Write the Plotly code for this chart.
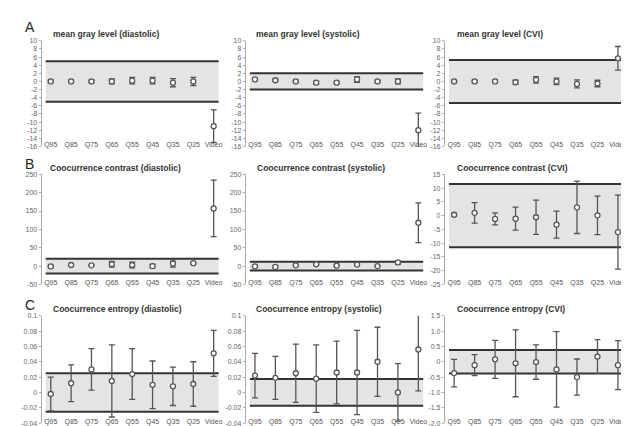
import plotly.graph_objects as go

W, H = 629, 426

categories = ["Q95", "Q85", "Q75", "Q65", "Q55", "Q45", "Q35", "Q25", "Video"]

# Row A: mean gray level
mgl_dia_mean = [0.0, 0.0, 0.0, 0.0, 0.2, 0.2, -0.3, 0.0, -11.0]
mgl_dia_err = [0.3, 0.3, 0.3, 0.6, 0.8, 0.8, 1.0, 1.0, 4.0]
mgl_sys_mean = [0.5, 0.3, 0.0, -0.3, -0.3, 0.5, 0.0, 0.0, -12.0]
mgl_sys_err = [0.3, 0.3, 0.3, 0.4, 0.3, 0.7, 0.3, 0.6, 4.2]
mgl_cvi_mean = [0.0, 0.0, 0.0, -0.2, 0.4, 0.0, -0.6, -0.5, 5.7]
mgl_cvi_err = [0.3, 0.3, 0.3, 0.5, 0.8, 0.8, 1.0, 0.8, 2.9]

# Row B: coocurrence contrast
cc_dia_mean = [-1, 3, 2, 5, 3, 0, 7, 8, 157]
cc_dia_err = [1.5, 1.5, 1.5, 8, 8, 5, 10, 2, 77]
cc_sys_mean = [-1, -2, 2, 5, 1, 4, 0, 10, 118]
cc_sys_err = [1.5, 3, 1.5, 1.5, 1.5, 3, 1.5, 5, 54]
cc_cvi_mean = [0.3, 1.0, -1.2, -1.1, -0.6, -3.3, 3.0, 0.1, -6.0]
cc_cvi_err = [0.5, 3.7, 2.2, 4.2, 6.2, 4.9, 9.5, 7.0, 13.4]

# Row C: coocurrence entropy
ce_dia_mean = [-0.002, 0.012, 0.030, 0.015, 0.024, 0.010, 0.008, 0.011, 0.051]
ce_dia_err = [0.022, 0.024, 0.027, 0.047, 0.033, 0.031, 0.025, 0.029, 0.030]
ce_sys_mean = [0.022, 0.019, 0.025, 0.018, 0.026, 0.026, 0.040, 0.000, 0.056]
ce_sys_err = [0.029, 0.028, 0.038, 0.044, 0.041, 0.055, 0.045, 0.0375, 0.054]
ce_cvi_mean = [-0.37, -0.11, 0.08, -0.05, -0.01, -0.25, -0.50, 0.17, -0.11]
ce_cvi_err = [0.45, 0.34, 0.62, 1.09, 0.56, 1.23, 0.59, 0.55, 0.80]

# Reference band half-widths
band_limits = [5.0, 2.0, 5.3, 20.0, 12.0, 11.5, 0.025, 0.0175, 0.38]

titles = [
    "mean gray level (diastolic)", "mean gray level (systolic)", "mean gray level (CVI)",
    "Coocurrence contrast (diastolic)", "Coocurrence contrast (systolic)", "Coocurrence contrast (CVI)",
    "Coocurrence entropy (diastolic)", "Coocurrence entropy (systolic)", "Coocurrence entropy (CVI)",
]

ticks_A = [10, 8, 6, 4, 2, 0, -2, -4, -6, -8, -10, -12, -14, -16]
ticks_A_text = ["10", "8", "6", "4", "2", "0", "-2", "-4", "-6", "-8", "-10", "-12", "-14", "-16"]
ticks_B = [250, 200, 150, 100, 50, 0, -50]
ticks_B_text = ["250", "200", "150", "100", "50", "0", "-50"]
ticks_B3 = [15, 10, 5, 0, -5, -10, -15, -20, -25]
ticks_B3_text = ["15", "10", "5", "0", "-5", "-10", "-15", "-20", "-25"]
ticks_C = [0.1, 0.08, 0.06, 0.04, 0.02, 0, -0.02, -0.04]
ticks_C_text = ["0.1", "0.08", "0.06", "0.04", "0.02", "0", "-0.02", "-0.04"]
ticks_C3 = [1.5, 1.0, 0.5, 0, -0.5, -1.0, -1.5, -2.0]
ticks_C3_text = ["1.5", "1.0", "0.5", "0", "-0.5", "-1.0", "-1.5", "-2.0"]

panel_means = [mgl_dia_mean, mgl_sys_mean, mgl_cvi_mean,
               cc_dia_mean, cc_sys_mean, cc_cvi_mean,
               ce_dia_mean, ce_sys_mean, ce_cvi_mean]
panel_errs = [mgl_dia_err, mgl_sys_err, mgl_cvi_err,
              cc_dia_err, cc_sys_err, cc_cvi_err,
              ce_dia_err, ce_sys_err, ce_cvi_err]
panel_ranges = [[-16, 10]] * 3 + [[-50, 250], [-50, 250], [-25, 15]] + \
    [[-0.04, 0.1], [-0.04, 0.1], [-2.0, 1.5]]
panel_ticks = [(ticks_A, ticks_A_text)] * 3 + [(ticks_B, ticks_B_text), (ticks_B, ticks_B_text),
                                               (ticks_B3, ticks_B3_text)] + \
    [(ticks_C, ticks_C_text), (ticks_C, ticks_C_text), (ticks_C3, ticks_C3_text)]

# layout geometry (pixels)
col_px = [(33.8, 212.1), (239.3, 418.1), (439.7, 619.0)]
row_px = [(29.3, 136.7), (165.0, 277.0), (308.8, 418.0)]
title_px = [[(43, 22), (248, 22), (450, 22)],
            [(40, 159), (249, 159), (450, 159)],
            [(43, 302), (248, 302), (450, 302)]]
letters = [("A", 15), ("B", 155), ("C", 298)]

FONT = "Liberation Sans, Arial, sans-serif"
DARK = "#555555"

fig = go.Figure()
layout = dict(width=W, height=H, margin=dict(l=0, r=0, t=0, b=0),
              paper_bgcolor="white", plot_bgcolor="white", showlegend=False,
              font=dict(family=FONT, color="#555555"))
shapes = []
annotations = []

for i in range(9):
    r, c = divmod(i, 3)
    n = i + 1
    xa = "x" if n == 1 else f"x{n}"
    ya = "y" if n == 1 else f"y{n}"
    x0, x1 = col_px[c]
    y0, y1 = row_px[r]
    layout["xaxis" if n == 1 else f"xaxis{n}"] = dict(
        domain=[x0 / W, x1 / W], anchor=ya, type="category",
        categoryorder="array", categoryarray=categories,
        range=[-0.45, 8.25], showline=False, showgrid=False, zeroline=False,
        ticks="", ticklabelstandoff=-7,
        tickfont=dict(size=7, color="#555555", family=FONT),
        fixedrange=True)
    tv, tt = panel_ticks[i]
    layout["yaxis" if n == 1 else f"yaxis{n}"] = dict(
        domain=[1 - y1 / H, 1 - y0 / H], anchor=xa, range=panel_ranges[i],
        tickvals=tv, ticktext=tt, showline=True, linecolor="#aaaaaa", linewidth=1,
        ticks="outside", ticklen=2, tickcolor="#aaaaaa", showgrid=False, zeroline=False,
        tickfont=dict(size=7, color="#666666", family=FONT), fixedrange=True)
    lim = band_limits[i]
    shapes.append(dict(type="rect", xref=xa, yref=ya, x0=-0.25, x1=8.25, y0=-lim, y1=lim,
                       fillcolor="#e4e4e4", line=dict(width=0), layer="below"))
    for yy in (lim, -lim):
        shapes.append(dict(type="line", xref=xa, yref=ya, x0=-0.25, x1=8.25, y0=yy, y1=yy,
                           line=dict(color="#333333", width=2), layer="below"))
    fig.add_trace(go.Scatter(
        x=categories, y=panel_means[i], xaxis=xa, yaxis=ya, mode="markers",
        cliponaxis=False,
        marker=dict(symbol="circle", size=5, color="white", line=dict(color=DARK, width=1.3)),
        error_y=dict(type="data", array=panel_errs[i], visible=True, color=DARK,
                     thickness=1.3, width=3)))
    tx, ty = title_px[r][c]
    annotations.append(dict(text=titles[i], xref="paper", yref="paper", x=tx / W, y=1 - ty / H,
                            xanchor="left", yanchor="middle", showarrow=False,
                            font=dict(size=8.5, color="#333333", family=FONT, weight="bold")))

for letter, ly in letters:
    annotations.append(dict(text=letter, xref="paper", yref="paper", x=22 / W, y=1 - ly / H,
                            xanchor="center", yanchor="middle", showarrow=False,
                            font=dict(size=14, color="#222222", family=FONT)))

layout["shapes"] = shapes
layout["annotations"] = annotations
fig.update_layout(**layout)
fig.write_html("out.html")
